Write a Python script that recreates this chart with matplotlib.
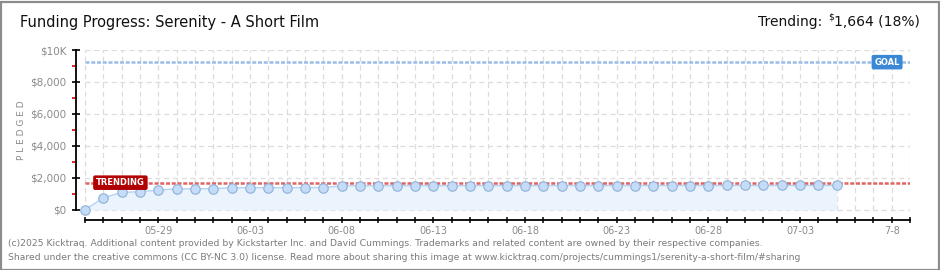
import matplotlib
matplotlib.use("Agg")
import matplotlib.pyplot as plt
from matplotlib.patches import Rectangle

# ---------------- data ----------------
title = "Funding Progress: Serenity - A Short Film"
days = list(range(42))  # days since 05-25
pledged = [0, 760, 1090, 1140, 1240, 1320, 1320, 1330, 1390, 1390,
           1390, 1395, 1395, 1400, 1505, 1510, 1510, 1512, 1512, 1515,
           1515, 1515, 1518, 1518, 1520, 1520, 1520, 1520, 1522, 1522,
           1522, 1525, 1525, 1525, 1525, 1528, 1528, 1528, 1530, 1530,
           1530, 1532]
goal = 9240
trending = 1664
trending_pct = 18
x_major_days = [4, 9, 14, 19, 24, 29, 34, 39, 44]
x_major_labels = ["05-29", "06-03", "06-08", "06-13", "06-18", "06-23", "06-28", "07-03", "7-8"]
y_major = [0, 2000, 4000, 6000, 8000, 10000]
y_major_labels = ["$0", "$2,000", "$4,000", "$6,000", "$8,000", "$10K"]
y_minor = [1000, 3000, 5000, 7000, 9000]
x_end = 45
footer1 = ("(c)2025 Kicktraq. Additional content provided by Kickstarter Inc. and David Cummings. "
           "Trademarks and related content are owned by their respective companies.")
footer2 = ("Shared under the creative commons (CC BY-NC 3.0) license. Read more about sharing this image at "
           "www.kicktraq.com/projects/cummings1/serenity-a-short-film/#sharing")

W, H = 940, 270
fig = plt.figure(figsize=(W / 100, H / 100), dpi=100)
fig.patch.set_facecolor("white")

def fx(px):
    return px / W

def fy(py):
    return 1 - py / H

# axes: left 76, right 910, top 50, bottom 220
ax = fig.add_axes([fx(76), fy(220), fx(910 - 76), (220 - 50) / H])
ax.set_xlim(-0.49, x_end)
ax.set_ylim(-630, 10000)
ax.set_facecolor("white")

# grid
grid_kw = dict(color="#dcdcdc", lw=0.9, ls=(0, (4, 3)), zorder=0)
for d in range(0, x_end + 1):
    ax.plot([d, d], [0, 10000], **grid_kw)
for v in y_major:
    ax.plot([0, x_end], [v, v], **grid_kw)

# fill + line + points
ax.fill_between(days, pledged, 0, color="#ebf3fd", zorder=1, lw=0)
ax.plot(days, pledged, color="#b5d2f2", lw=1.0, zorder=2)
ax.plot(days, pledged, ls="none", marker="o", ms=6.8, mfc="#c4dcf7",
        mec="#8fb0d8", mew=0.8, zorder=5)

# goal & trending lines
ax.plot([0, x_end], [goal, goal], color="#9abde6", lw=1.8,
        ls=(0, (1.6, 0.7)), zorder=3, solid_capstyle="butt")
ax.plot([0, x_end], [trending, trending], color="#e06464", lw=1.8,
        ls=(0, (1.6, 0.7)), zorder=3, solid_capstyle="butt")

# labels on lines
ax.text(43.75, goal, "GOAL", color="white", fontsize=6, fontweight="bold",
        ha="center", va="center", zorder=6,
        bbox=dict(boxstyle="round,pad=0.25,rounding_size=0.15", fc="#3a87d6", ec="#3a87d6"))
ax.text(0.6, trending + 40, "TRENDING", color="white", fontsize=6, fontweight="bold",
        ha="left", va="center", zorder=6,
        bbox=dict(boxstyle="round,pad=0.25,rounding_size=0.15", fc="#b00000", ec="#b00000"))

# spines
for s in ["top", "right"]:
    ax.spines[s].set_visible(False)
ax.spines["left"].set_bounds(0, 10000)
ax.spines["bottom"].set_bounds(0, x_end)
ax.spines["left"].set_linewidth(1.3)
ax.spines["bottom"].set_linewidth(1.3)

ax.set_yticks(y_major)
ax.set_yticklabels(y_major_labels)
ax.set_yticks(y_minor, minor=True)
ax.tick_params(axis="y", which="major", direction="inout", length=6, width=1.2,
               colors="black", labelcolor="#8a8a8a", labelsize=7.5, pad=4)
ax.tick_params(axis="y", which="minor", direction="out", length=3, width=1.2,
               colors="#e00000")

ax.set_xticks(x_major_days)
ax.set_xticklabels(x_major_labels)
ax.set_xticks(range(0, x_end + 1), minor=True)
ax.tick_params(axis="x", which="both", direction="inout", length=5, width=1.1,
               colors="black", labelcolor="#8a8a8a", labelsize=7, pad=1.5)

# y label
fig.text(fx(21), fy(130), "P L E D G E D", rotation=90, color="#8a8a8a",
         fontsize=6.5, ha="center", va="center")

# title
fig.text(fx(20), fy(22), title, fontsize=10.5, color="#111111", ha="left",
         va="center")

# trending top right
hs = 10
t1 = fig.text(fx(920), fy(22), f"1,664 ({trending_pct}%)", fontsize=hs,
              color="#111111", ha="right", va="center")
fig.canvas.draw()
r = fig.canvas.get_renderer()
bb = t1.get_window_extent(renderer=r)
t2 = fig.text(bb.x0 / W - 0.0005, fy(17), "$", fontsize=6.5, color="#111111",
              ha="right", va="center")
bb2 = t2.get_window_extent(renderer=r)
fig.text(bb2.x0 / W - fx(6), fy(22), "Trending:", fontsize=hs, color="#111111",
         ha="right", va="center")

# footer
fig.text(fx(8), fy(243), footer1, fontsize=6.7, color="#7a7a7a", ha="left", va="center")
fig.text(fx(8), fy(257), footer2, fontsize=6.7, color="#7a7a7a", ha="left", va="center")

# border
fig.patches.append(Rectangle((0.5 / W, 0.5 / H), 1 - 2 / W, 1 - 2 / H,
                             transform=fig.transFigure, fill=False,
                             ec="#8c8c8c", lw=1.6))

fig.savefig("out.png", dpi=100, facecolor="white")
